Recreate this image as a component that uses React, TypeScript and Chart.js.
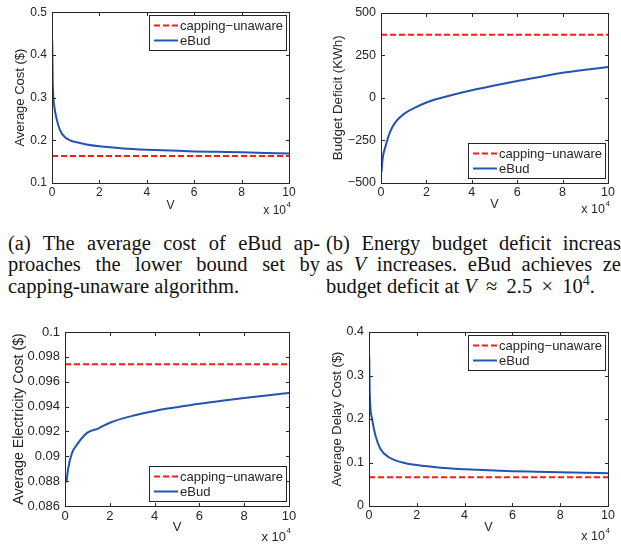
import React, { useEffect, useRef } from "react";
import { Chart, registerables } from "chart.js";
Chart.register(...registerables);

// ---------- shared axis data ----------
const X_TICKS = [0, 2, 4, 6, 8, 10];
const X_LABELS = ["0", "2", "4", "6", "8", "10"];
const X_EXP = "4";
const X_TITLE = "V";
const LEGEND_LABELS = ["capping\u2212unaware", "eBud"];

// ---------- (a) average cost ----------
const V_A = [0.01, 0.03, 0.06, 0.1, 0.2, 0.35, 0.55, 0.8, 1, 1.4, 2, 3, 4, 5, 6, 7, 8, 9, 10];
const EBUD_A = [0.432, 0.34, 0.3, 0.278, 0.249, 0.222, 0.207, 0.199, 0.196, 0.191, 0.186, 0.181, 0.178, 0.176, 0.174, 0.173, 0.172, 0.1705, 0.169];
const UNAWARE_A = 0.163;
const Y_TICKS_A = [0.1, 0.2, 0.3, 0.4, 0.5];
const Y_LABELS_A = ["0.1", "0.2", "0.3", "0.4", "0.5"];
const Y_TITLE_A = "Average Cost ($)";

// ---------- (b) budget deficit ----------
const V_B = [0.02, 0.08, 0.18, 0.4, 0.6, 0.84, 1.06, 1.5, 2, 2.5, 3, 4, 5, 6, 7, 8, 9, 10];
const EBUD_B = [-436, -350, -294, -200, -150, -114, -90, -58, -28, -6, 12, 44, 72, 98, 122, 146, 164, 180];
const UNAWARE_B = 369;
const Y_TICKS_B = [-500, -250, 0, 250, 500];
const Y_LABELS_B = ["\u2212500", "\u2212250", "0", "250", "500"];
const Y_TITLE_B = "Budget Deficit (KWh)";

// ---------- (c) electricity cost ----------
const V_C = [0.06, 0.15, 0.3, 0.6, 1.0, 1.5, 2, 3, 4, 5, 6, 7, 8, 9, 10];
const EBUD_C = [0.0879, 0.0891, 0.0902, 0.0911, 0.0919, 0.09225, 0.0927, 0.09325, 0.09365, 0.09395, 0.09423, 0.09447, 0.09469, 0.0949, 0.0951];
const UNAWARE_C = 0.0974;
const Y_TICKS_C = [0.086, 0.088, 0.09, 0.092, 0.094, 0.096, 0.098, 0.1];
const Y_LABELS_C = ["0.086", "0.088", "0.09", "0.092", "0.094", "0.096", "0.098", "0.1"];
const Y_TITLE_C = "Average Electricity Cost ($)";

// ---------- (d) delay cost ----------
const V_D = [0.01, 0.03, 0.13, 0.27, 0.48, 0.83, 1.4, 2, 3, 4, 5, 6, 7, 8, 9, 10];
const EBUD_D = [0.345, 0.262, 0.2, 0.162, 0.131, 0.112, 0.1, 0.094, 0.088, 0.0846, 0.082, 0.08, 0.0787, 0.0775, 0.0764, 0.0754];
const UNAWARE_D = 0.066;
const Y_TICKS_D = [0, 0.1, 0.2, 0.3, 0.4];
const Y_LABELS_D = ["0", "0.1", "0.2", "0.3", "0.4"];
const Y_TITLE_D = "Average Delay Cost ($)";

const BLUE = "#2454ad";
const RED = "#ff1a1a";
const AXIS = "#262626";
const TEXT = "#262626";
const FONT = "'Liberation Sans', Arial, Helvetica, sans-serif";

type Panel = {
  left: number; top: number; width: number; height: number;
  padTop: number; padRight: number; yWidth: number; xHeight: number;
  yTitlePad: number; xTitlePad: number; expOffset: number;
  tickSize: number; titleSize: number;
  v: number[]; ebud: number[]; unaware: number;
  yTicks: number[]; yLabels: string[]; yTitle: string;
  legend: "ne" | "se";
};

const PANELS: Panel[] = [
  { left: 0, top: 0, width: 300, height: 220, padTop: 7, padRight: 11, yWidth: 52, xHeight: 37,
    yTitlePad: 12.5, xTitlePad: 7.5, expOffset: 28, tickSize: 12, titleSize: 13,
    v: V_A, ebud: EBUD_A, unaware: UNAWARE_A, yTicks: Y_TICKS_A, yLabels: Y_LABELS_A, yTitle: Y_TITLE_A, legend: "ne" },
  { left: 310, top: 0, width: 311, height: 220, padTop: 7, padRight: 13, yWidth: 71, xHeight: 37,
    yTitlePad: 20, xTitlePad: 7.5, expOffset: 27, tickSize: 12.5, titleSize: 13.4,
    v: V_B, ebud: EBUD_B, unaware: UNAWARE_B, yTicks: Y_TICKS_B, yLabels: Y_LABELS_B, yTitle: Y_TITLE_B, legend: "se" },
  { left: 0, top: 310, width: 300, height: 236, padTop: 22, padRight: 11, yWidth: 65, xHeight: 40,
    yTitlePad: 11, xTitlePad: 10.5, expOffset: 31, tickSize: 13, titleSize: 14.2,
    v: V_C, ebud: EBUD_C, unaware: UNAWARE_C, yTicks: Y_TICKS_C, yLabels: Y_LABELS_C, yTitle: Y_TITLE_C, legend: "se" },
  { left: 310, top: 310, width: 311, height: 236, padTop: 22, padRight: 13, yWidth: 59, xHeight: 40,
    yTitlePad: 20, xTitlePad: 10.5, expOffset: 31, tickSize: 12.5, titleSize: 13,
    v: V_D, ebud: EBUD_D, unaware: UNAWARE_D, yTicks: Y_TICKS_D, yLabels: Y_LABELS_D, yTitle: Y_TITLE_D, legend: "ne" },
];

function matlabPlugin(p: Panel) {
  return {
    id: "matlabBox",
    afterDatasetsDraw(chart: any) {
      const { ctx, chartArea: a, scales } = chart;
      const xs = scales.x, ys = scales.y;
      const L = Math.round(a.left) + 0.5, R = Math.round(a.right) + 0.5;
      const T = Math.round(a.top) + 0.5, B = Math.round(a.bottom) + 0.5;
      ctx.save();
      ctx.setLineDash([]);
      ctx.strokeStyle = AXIS;
      ctx.lineWidth = 1;
      ctx.strokeRect(L, T, R - L, B - T);
      const TL = 3.5;
      ctx.beginPath();
      xs.ticks.forEach((t: any) => {
        const px = Math.round(xs.getPixelForValue(t.value)) + 0.5;
        ctx.moveTo(px, B); ctx.lineTo(px, B - TL);
        ctx.moveTo(px, T); ctx.lineTo(px, T + TL);
      });
      ys.ticks.forEach((t: any) => {
        const py = Math.round(ys.getPixelForValue(t.value)) + 0.5;
        ctx.moveTo(L, py); ctx.lineTo(L + TL, py);
        ctx.moveTo(R, py); ctx.lineTo(R - TL, py);
      });
      ctx.stroke();

      // x 10^4 multiplier
      ctx.fillStyle = TEXT;
      ctx.textBaseline = "middle";
      ctx.textAlign = "right";
      ctx.font = `${p.tickSize}px ${FONT}`;
      ctx.fillText("x 10", a.right - 3, a.bottom + p.expOffset);
      ctx.textAlign = "left";
      ctx.font = `8px ${FONT}`;
      ctx.fillText(X_EXP, a.right - 2.5, a.bottom + p.expOffset - 6);

      // legend box
      const bw = 137, bh = 35;
      const bx = Math.round(a.right - 3 - bw);
      const by = p.legend === "ne" ? Math.round(a.top + 3) : Math.round(a.bottom - 5 - bh);
      ctx.fillStyle = "#ffffff";
      ctx.fillRect(bx, by, bw, bh);
      ctx.strokeStyle = AXIS;
      ctx.strokeRect(bx + 0.5, by + 0.5, bw, bh);
      chart.data.datasets.forEach((ds: any, i: number) => {
        const y = by + 10.5 + i * 15;
        ctx.beginPath();
        ctx.strokeStyle = ds.borderColor;
        ctx.lineWidth = 2;
        ctx.setLineDash(ds.borderDash || []);
        ctx.moveTo(bx + 5, y);
        ctx.lineTo(bx + 29, y);
        ctx.stroke();
        ctx.setLineDash([]);
        ctx.fillStyle = TEXT;
        ctx.font = `13px ${FONT}`;
        ctx.textAlign = "left";
        ctx.textBaseline = "middle";
        ctx.fillText(ds.label, bx + 31, y + 0.5);
      });
      ctx.restore();
    },
  };
}

function ChartPanel({ p }: { p: Panel }) {
  const ref = useRef<HTMLCanvasElement | null>(null);
  useEffect(() => {
    if (!ref.current) return;
    const chart = new Chart(ref.current, {
      type: "line",
      data: {
        datasets: [
          {
            label: LEGEND_LABELS[0],
            data: [{ x: X_TICKS[0], y: p.unaware }, { x: X_TICKS[X_TICKS.length - 1], y: p.unaware }],
            borderColor: RED, borderWidth: 2, borderDash: [6, 3], pointRadius: 0, fill: false,
          },
          {
            label: LEGEND_LABELS[1],
            data: p.v.map((x, i) => ({ x, y: p.ebud[i] })),
            borderColor: BLUE, borderWidth: 2, pointRadius: 0, fill: false,
            cubicInterpolationMode: "monotone",
          },
        ],
      },
      options: {
        responsive: false,
        animation: false,
        devicePixelRatio: 1,
        layout: { padding: { top: p.padTop, right: p.padRight, left: 0, bottom: 0 } },
        plugins: { legend: { display: false }, tooltip: { enabled: false } },
        scales: {
          x: {
            type: "linear",
            min: X_TICKS[0], max: X_TICKS[X_TICKS.length - 1],
            grid: { display: false, drawTicks: false, tickLength: 0 },
            border: { display: false },
            afterBuildTicks: (s: any) => { s.ticks = X_TICKS.map((v) => ({ value: v })); },
            afterFit: (s: any) => { s.height = p.xHeight; },
            ticks: {
              autoSkip: false, maxRotation: 0, padding: 2.5, color: TEXT,
              font: { size: p.tickSize, family: FONT },
              callback: (_v: any, i: number) => X_LABELS[i],
            },
            title: { display: true, text: X_TITLE, color: TEXT, font: { size: p.tickSize, family: FONT }, padding: { top: 0, bottom: p.xTitlePad } },
          },
          y: {
            type: "linear",
            min: p.yTicks[0], max: p.yTicks[p.yTicks.length - 1],
            grid: { display: false, drawTicks: false, tickLength: 0 },
            border: { display: false },
            afterBuildTicks: (s: any) => { s.ticks = p.yTicks.map((v) => ({ value: v })); },
            afterFit: (s: any) => { s.width = p.yWidth; },
            ticks: {
              autoSkip: false, padding: 5, color: TEXT,
              font: { size: p.tickSize, family: FONT },
              callback: (_v: any, i: number) => p.yLabels[i],
            },
            title: { display: true, text: p.yTitle, color: TEXT, font: { size: p.titleSize, family: FONT }, padding: { top: p.yTitlePad, bottom: 0 } },
          },
        },
      },
      plugins: [matlabPlugin(p)],
    } as any);
    return () => chart.destroy();
  }, [p]);
  return (
    <div style={{ position: "absolute", left: p.left, top: p.top, width: p.width, height: p.height }}>
      <canvas ref={ref} width={p.width} height={p.height} style={{ display: "block" }} />
    </div>
  );
}

const CAPTION_A = ["(a) The average cost of eBud ap-", "proaches the lower bound set by", "capping-unaware algorithm."];

const capStyle: React.CSSProperties = {
  position: "absolute", width: 312, fontFamily: "'Liberation Serif', 'Times New Roman', serif",
  fontSize: 20.5, lineHeight: "21.5px", color: "#111", whiteSpace: "nowrap",
};
const justLine: React.CSSProperties = { textAlign: "justify", textAlignLast: "justify" as any, whiteSpace: "normal" };
const mathOp: React.CSSProperties = { margin: "0 0.45em" };

export default function App() {
  return (
    <div style={{ position: "absolute", left: 0, top: 0, width: 621, height: 546, overflow: "hidden", background: "#fff" }}>
      {PANELS.map((p, i) => <ChartPanel key={i} p={p} />)}
      <div style={{ ...capStyle, left: 8, top: 232.5 }}>
        <div style={justLine}>{CAPTION_A[0]}</div>
        <div style={justLine}>{CAPTION_A[1]}</div>
        <div>{CAPTION_A[2]}</div>
      </div>
      <div style={{ ...capStyle, left: 326, top: 232.5 }}>
        <div style={justLine}>(b) Energy budget deficit increases</div>
        <div style={justLine}>as <i>V</i> increases. eBud achieves zero</div>
        <div>budget deficit at <i>V</i><span style={mathOp}>&#8776;</span>2.5<span style={mathOp}>&#215;</span>10<sup style={{ fontSize: 14, lineHeight: 0 }}>4</sup>.</div>
      </div>
    </div>
  );
}
